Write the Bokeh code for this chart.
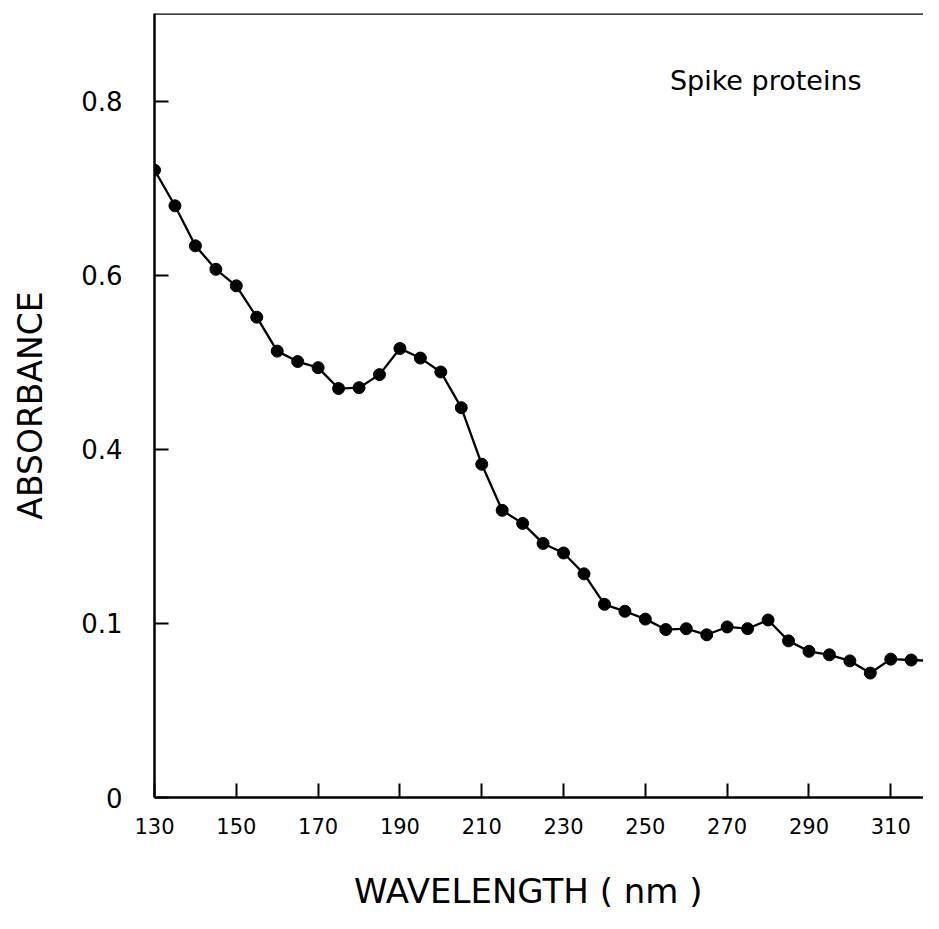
from bokeh.plotting import figure
from bokeh.models import FixedTicker, Span, Label, Range1d
from bokeh.embed import file_html
from bokeh.resources import INLINE

# Data
wavelength = [130, 135, 140, 145, 150, 155, 160, 165, 170, 175, 180, 185, 190, 195,
              200, 205, 210, 215, 220, 225, 230, 235, 240, 245, 250, 255, 260, 265,
              270, 275, 280, 285, 290, 295, 300, 305, 310, 315, 320]
absorbance = [0.721, 0.680, 0.634, 0.607, 0.588, 0.552, 0.513, 0.501, 0.494, 0.470,
              0.471, 0.486, 0.516, 0.505, 0.489, 0.448, 0.383, 0.330, 0.315, 0.292,
              0.281, 0.257, 0.222, 0.214, 0.205, 0.193, 0.194, 0.187, 0.196, 0.194,
              0.204, 0.180, 0.168, 0.164, 0.157, 0.143, 0.159, 0.158, 0.157]

x_ticks = [130, 150, 170, 190, 210, 230, 250, 270, 290, 310]
y_ticks = [0, 0.2, 0.4, 0.6, 0.8]
y_tick_labels = ["0", "0.1", "0.4", "0.6", "0.8"]

x_start, x_end = 130, 318
y_start, y_end = 0, 0.901

FONT = "DejaVu Sans"

p = figure(output_backend="svg", toolbar_location=None,
           width=923, height=913,
           min_border_left=154, min_border_right=0,
           min_border_top=13, min_border_bottom=114,
           x_range=Range1d(x_start, x_end), y_range=Range1d(y_start, y_end))
p.outline_line_color = None
p.grid.visible = False
p.background_fill_color = "white"
p.border_fill_color = "white"

p.line(wavelength, absorbance, line_color="black", line_width=2.3)
p.scatter(wavelength, absorbance, size=12, fill_color="black", line_color="black")

# top border line
p.add_layout(Span(location=y_end, dimension="width", line_color="black", line_width=2.5))

# X axis
xa = p.xaxis[0]
xa.ticker = FixedTicker(ticks=x_ticks)
xa.axis_line_width = 2.5
xa.axis_line_color = "black"
xa.major_tick_in = 14
xa.major_tick_out = 0
xa.major_tick_line_width = 2
xa.major_tick_line_color = "black"
xa.minor_tick_line_color = None
xa.major_label_text_font = FONT
xa.major_label_text_font_size = "21px"
xa.major_label_text_color = "black"
xa.major_label_standoff = 20
xa.axis_label = "WAVELENGTH   ( nm )"
xa.axis_label_text_font = FONT
xa.axis_label_text_font_size = "34px"
xa.axis_label_text_color = "black"
xa.axis_label_text_font_style = "normal"
xa.axis_label_standoff = 34

# Y axis
ya = p.yaxis[0]
ya.ticker = FixedTicker(ticks=y_ticks)
ya.major_label_overrides = {t: l for t, l in zip(y_ticks, y_tick_labels)}
ya.axis_line_width = 2.5
ya.axis_line_color = "black"
ya.major_tick_in = 14
ya.major_tick_out = 0
ya.major_tick_line_width = 2
ya.major_tick_line_color = "black"
ya.minor_tick_line_color = None
ya.major_label_text_font = FONT
ya.major_label_text_font_size = "26px"
ya.major_label_text_color = "black"
ya.major_label_standoff = 32
ya.axis_label = "ABSORBANCE"
ya.axis_label_text_font = FONT
ya.axis_label_text_font_size = "33px"
ya.axis_label_text_color = "black"
ya.axis_label_text_font_style = "normal"
ya.axis_label_standoff = 28

p.add_layout(Label(x=256, y=0.806, text="Spike proteins", text_font=FONT,
                   text_font_size="27px", text_color="black"))

open("out.html", "w").write(file_html(p, INLINE))
